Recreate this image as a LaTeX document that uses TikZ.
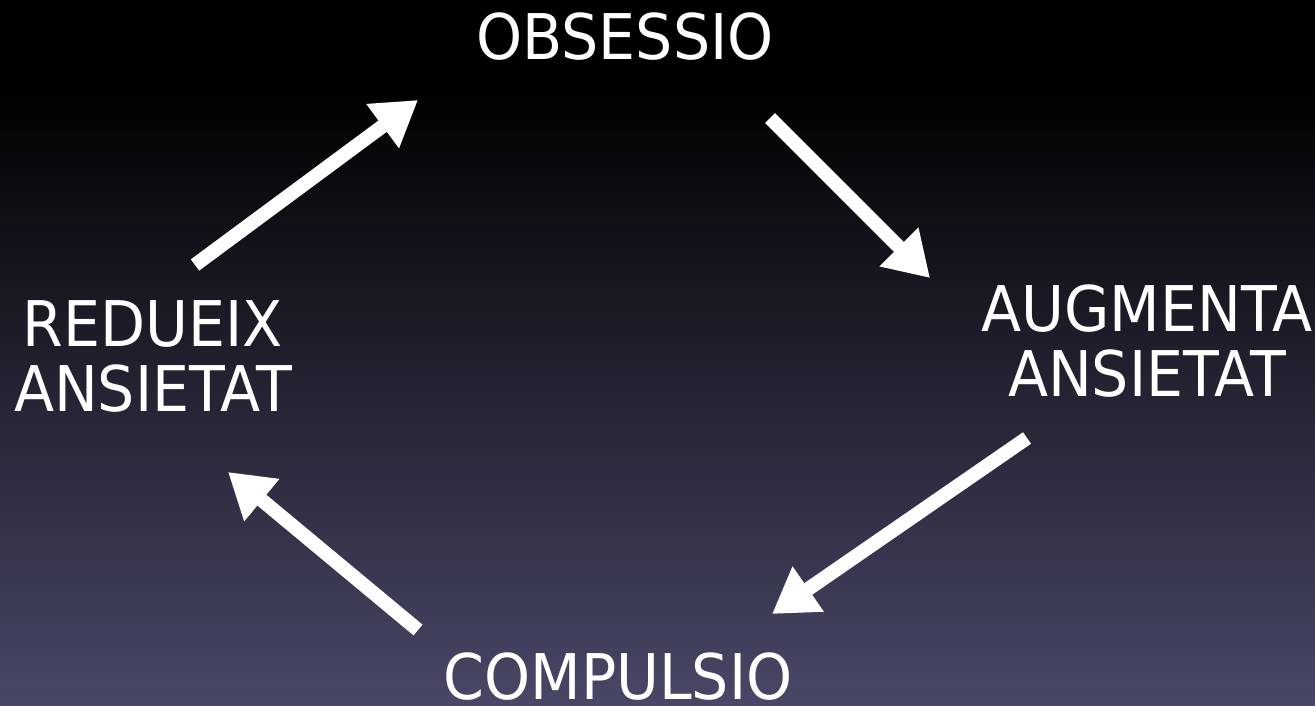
\documentclass[tikz,border=0pt]{standalone}
\usepackage{fontspec}
\setmainfont{DejaVu Sans}
\usetikzlibrary{arrows.meta}
\definecolor{bgbot}{RGB}{72,71,102}
\begin{document}
\begin{tikzpicture}[x=1pt,y=1pt,
  lbl/.style={text=white,inner sep=0pt,align=center,xscale=0.93,font=\fontsize{63}{65}\selectfont},
  flow/.style={white,line width=14pt,-{Triangle[length=44pt,width=52pt]}}]
\useasboundingbox (0,0) rectangle (1315,705);
\fill[black] (0,620) rectangle (1315,705);
\shade[top color=black,bottom color=bgbot] (0,0) rectangle (1315,621);
\node[lbl] (obs) at (625,668) {OBSESSIO};
\node[lbl] (aug) at (1147,363.5) {AUGMENTA\\ANSIETAT};
\node[lbl] (com) at (618,28) {COMPULSIO};
\node[lbl] (red) at (153,348.5) {REDUEIX\\ANSIETAT};
\coordinate (a1s) at (195,440); \coordinate (a1e) at (418,605);
\coordinate (a2s) at (770,587); \coordinate (a2e) at (930,427);
\coordinate (a3s) at (1027,267); \coordinate (a3e) at (772,91);
\coordinate (a4s) at (418,75); \coordinate (a4e) at (228,233);
\draw[flow] (a1s) -- (a1e);
\draw[flow] (a2s) -- (a2e);
\draw[flow] (a3s) -- (a3e);
\draw[flow] (a4s) -- (a4e);
\end{tikzpicture}
\end{document}
